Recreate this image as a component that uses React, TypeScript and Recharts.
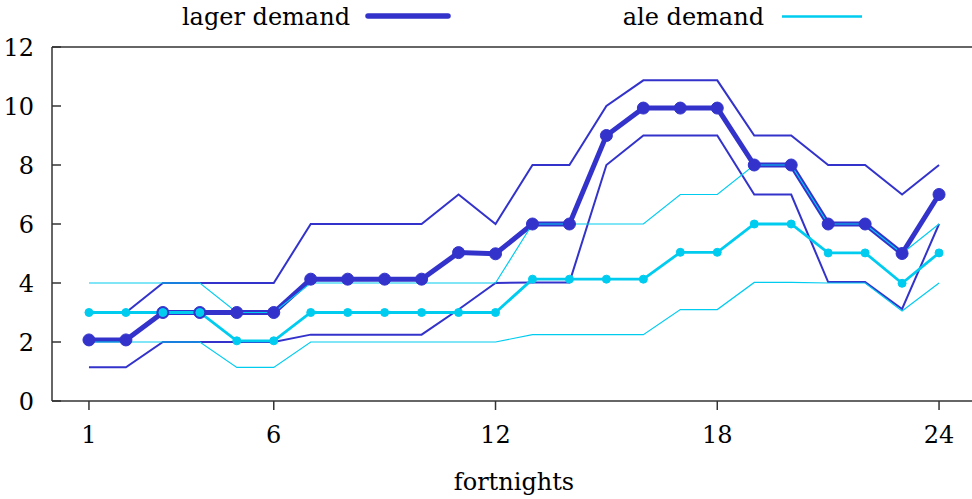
import { LineChart, Line, XAxis, YAxis, Legend, ReferenceLine } from "recharts";

const fortnights = [1, 2, 3, 4, 5, 6, 7, 8, 9, 10, 11, 12, 13, 14, 15, 16, 17, 18, 19, 20, 21, 22, 23, 24];
const lagerDemand = [2.07, 2.07, 3, 3, 3, 3, 4.13, 4.13, 4.13, 4.13, 5.03, 4.99, 6, 6, 9, 9.93, 9.93, 9.93, 8, 8, 6, 6, 5, 7];
const lagerHigh = [3, 3, 4, 4, 4, 4, 6, 6, 6, 6, 7, 6, 8, 8, 10, 10.87, 10.87, 10.87, 9, 9, 8, 8, 7, 8];
const lagerLow = [1.14, 1.14, 2, 2, 2, 2, 2.25, 2.25, 2.25, 2.25, 3.1, 4, 4.02, 4.02, 8, 9, 9, 9, 7, 7, 4.03, 4.03, 3.12, 6];
const aleDemand = [3, 3, 3, 3, 2.04, 2.04, 3, 3, 3, 3, 3, 3, 4.13, 4.13, 4.13, 4.13, 5.04, 5.04, 6, 6, 5.02, 5.02, 3.99, 5.02];
const aleHigh = [4, 4, 4, 4, 3, 3, 4, 4, 4, 4, 4, 4, 6, 6, 6, 6, 7, 7, 8, 8, 6, 6, 5, 6];
const aleLow = [2, 2, 2, 2, 1.14, 1.14, 2, 2, 2, 2, 2, 2, 2.25, 2.25, 2.25, 2.25, 3.1, 3.1, 4.02, 4.02, 4, 4, 3.05, 4];

const xTicks = [1, 6, 12, 18, 24];
const yTicks = [0, 2, 4, 6, 8, 10, 12];

const LAGER = "#3333cc";
const ALE = "#00ccf0";
const AXIS = "#333";
const FONT = "DejaVu Serif";

const data = fortnights.map((x, i) => ({
  x,
  lagerDemand: lagerDemand[i],
  lagerHigh: lagerHigh[i],
  lagerLow: lagerLow[i],
  aleDemand: aleDemand[i],
  aleHigh: aleHigh[i],
  aleLow: aleLow[i],
}));

function renderLegend() {
  return (
    <svg width={972} height={36} style={{ display: "block" }}>
      <text x={350} y={25} textAnchor="end" fontFamily={FONT} fontSize={24} fill="#000">
        lager demand
      </text>
      <line x1={368} y1={16} x2={448} y2={16} stroke={LAGER} strokeWidth={5.5} strokeLinecap="round" />
      <text x={764} y={25} textAnchor="end" fontFamily={FONT} fontSize={24} fill="#000">
        ale demand
      </text>
      <line x1={782} y1={16.5} x2={862} y2={16.5} stroke={ALE} strokeWidth={2.5} />
    </svg>
  );
}

export default function App() {
  const tickStyle = { fontFamily: FONT, fontSize: 24, fill: "#000" };
  return (
    <div style={{ position: "absolute", left: 0, top: 0, width: 972, height: 499, overflow: "hidden", background: "#fff" }}>
      <LineChart width={985} height={499} data={data} margin={{ top: 47, right: 9, left: 0, bottom: 0 }}>
        <XAxis
          dataKey="x"
          type="number"
          domain={[0, 25]}
          ticks={xTicks}
          height={98}
          tickSize={9}
          tickMargin={16}
          stroke={AXIS}
          strokeWidth={1.5}
          tick={tickStyle}
          label={{ value: "fortnights", position: "insideBottom", offset: 9, style: tickStyle }}
        />
        <YAxis
          domain={[0, 12]}
          ticks={yTicks}
          width={52}
          tickSize={-9}
          tickMargin={27}
          stroke={AXIS}
          strokeWidth={1.5}
          tick={tickStyle}
        />
        <YAxis yAxisId="right" orientation="right" domain={[0, 12]} ticks={yTicks} width={0} mirror tickSize={9} tick={false} stroke={AXIS} strokeWidth={1.5} />
        <ReferenceLine y={12} stroke={AXIS} strokeWidth={1.5} />
        <Legend verticalAlign="middle" content={renderLegend} wrapperStyle={{ top: 0, left: 0, width: 972, height: 36 }} />
        <Line dataKey="lagerLow" stroke={LAGER} strokeWidth={2} dot={false} isAnimationActive={false} legendType="none" />
        <Line dataKey="lagerHigh" stroke={LAGER} strokeWidth={2} dot={false} isAnimationActive={false} legendType="none" />
        <Line
          dataKey="lagerDemand"
          stroke={LAGER}
          strokeWidth={5}
          dot={{ r: 6, fill: LAGER, stroke: LAGER, strokeWidth: 1 }}
          isAnimationActive={false}
        />
        <Line dataKey="aleLow" stroke={ALE} strokeWidth={1.2} dot={false} isAnimationActive={false} legendType="none" />
        <Line dataKey="aleHigh" stroke={ALE} strokeWidth={1.2} dot={false} isAnimationActive={false} legendType="none" />
        <Line
          dataKey="aleDemand"
          stroke={ALE}
          strokeWidth={2.8}
          dot={{ r: 4, fill: ALE, stroke: ALE, strokeWidth: 1 }}
          isAnimationActive={false}
        />
      </LineChart>
    </div>
  );
}
